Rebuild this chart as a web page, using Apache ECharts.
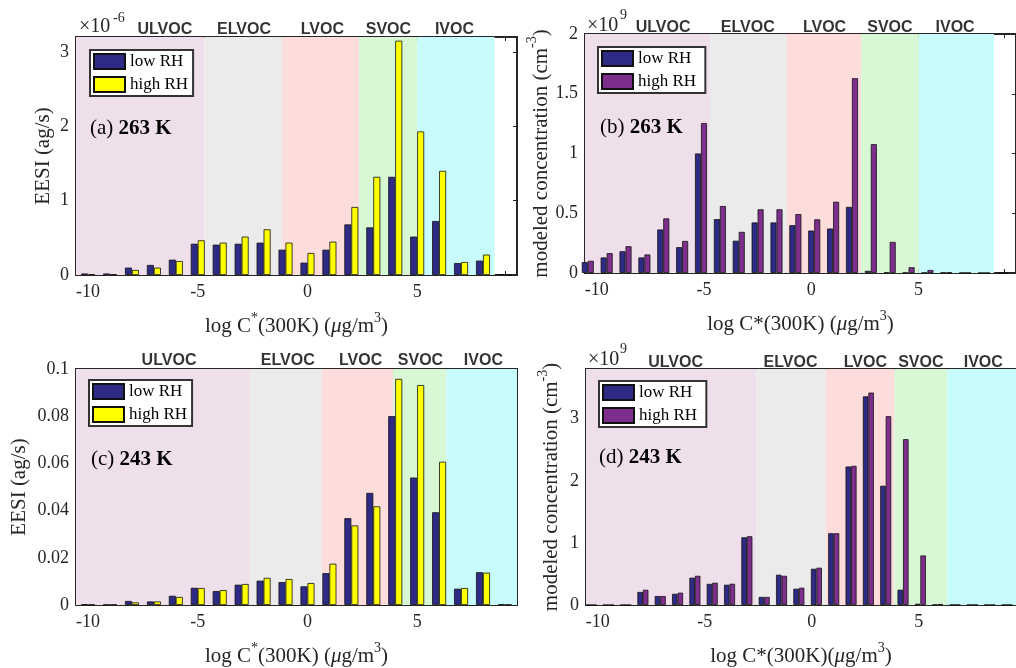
<!DOCTYPE html>
<html><head><meta charset="utf-8">
<script src="https://cdn.jsdelivr.net/npm/echarts@6/dist/echarts.min.js"></script>
<style>html,body{margin:0;padding:0;background:#fff}#c{width:1016px;height:668px}</style>
</head><body><div id="c"></div><script>
// ---------- data ----------
const binsAC = [-10,-9,-8,-7,-6,-5,-4,-3,-2,-1,0,1,2,3,4,5,6,7,8,9];
const binsB = [-10.42,-9.54,-8.66,-7.78,-6.90,-6.02,-5.14,-4.26,-3.38,-2.50,-1.62,-0.74,0.14,1.02,1.90,2.78,3.66,4.54,5.42,6.30,7.18,8.06,8.94];
const binsD = [-10.31,-9.50,-8.69,-7.89,-7.08,-6.27,-5.46,-4.65,-3.84,-3.03,-2.22,-1.41,-0.60,0.22,1.03,1.84,2.65,3.46,4.27,5.08,5.89,6.70,7.51,8.32,9.13];

const aLow  = [0.02,0.02,0.099,0.135,0.206,0.42,0.408,0.42,0.435,0.34,0.166,0.34,0.68,0.64,1.32,0.516,0.726,0.161,0.193,0.01];
const aHigh = [0.01,0.01,0.067,0.099,0.188,0.466,0.435,0.516,0.614,0.435,0.296,0.448,0.915,1.32,3.15,1.93,1.40,0.175,0.274,0.005];
const bLow  = [0.091,0.13,0.182,0.13,0.364,0.216,1.0,0.451,0.27,0.423,0.423,0.4,0.355,0.372,0.553,0.018,0.005,0.003,0.003,0.004,0.002,0.001,0.001];
const bHigh = [0.102,0.166,0.224,0.155,0.457,0.268,1.255,0.56,0.344,0.533,0.533,0.493,0.449,0.596,1.63,1.078,0.26,0.048,0.025,0.005,0.002,0.001,0.001];
const cLow  = [0.0003,0.0002,0.0017,0.0015,0.0039,0.0073,0.0059,0.0086,0.0103,0.0097,0.0079,0.0135,0.0368,0.0475,0.080,0.054,0.0393,0.0069,0.0139,0.0003];
const cHigh = [0.0002,0.0002,0.0011,0.0015,0.0034,0.0072,0.0063,0.0089,0.0115,0.011,0.0093,0.0175,0.0337,0.0418,0.0958,0.0932,0.0607,0.0072,0.0137,0.0002];
const dLow  = [0,0,0,0.21,0.144,0.18,0.44,0.34,0.326,1.09,0.13,0.487,0.262,0.583,1.155,2.23,3.36,1.92,0.246,0.02,0.005,0.003,0.003,0.002,0.002];
const dHigh = [0,0,0,0.245,0.144,0.198,0.47,0.358,0.342,1.107,0.13,0.47,0.278,0.6,1.155,2.24,3.42,3.04,2.67,0.797,0.015,0.004,0.003,0.002,0.002];

const xTickLabels = [-10,-5,0,5];
const xTickMarks = [-10,-9,-8,-7,-6,-5,-4,-3,-2,-1,0,1,2,3,4,5,6,7,8,9];
const yTicksA = [0,1,2,3];
const yTicksB = [0,0.5,1,1.5,2];
const yTicksC = [0,0.02,0.04,0.06,0.08,0.1];
const yTicksD = [0,1,2,3];

const vocNames = ['ULVOC','ELVOC','LVOC','SVOC','IVOC'];
const edgesA = [-10.55,-4.70,-1.15,2.35,5.00,8.53];
const edgesB = [-10.55,-4.72,-1.14,2.33,5.02,8.52];
const edgesC = [-10.55,-2.62,0.66,3.90,6.33,9.55];
const edgesD = [-10.55,-2.59,0.65,3.87,6.34,9.55];
const vocA = [-6.5,-2.89,0.68,3.69,6.7];
const vocB = [-6.91,-2.96,0.62,3.67,6.71];
const vocC = [-6.31,-0.9,2.42,5.15,8.02];
const vocD = [-6.36,-0.99,2.51,5.1,8.02];

// ---------- style ----------
const SERIF = 'Liberation Serif', SANS = 'Liberation Sans';
const AX = '#262626';
const NAVY = '#2e2b87', YEL = '#ffff00', PUR = '#7e2f8e';
const REG = ['#efdfeb','#ebebeb','#fddcdc','#d7f7d5','#c8fcfc'];
const XMIN = -10.55, XMAX = 9.55;

const rich = {
  n:{fontFamily:SERIF,fontSize:21,color:AX,lineHeight:26,verticalAlign:'bottom'},
  i:{fontFamily:SERIF,fontSize:21,fontStyle:'italic',color:AX,lineHeight:26,verticalAlign:'bottom'},
  s:{fontFamily:SERIF,fontSize:14,color:AX,lineHeight:14,verticalAlign:'top'}
};

const P = [
 {grid:{left:76,top:37,width:441,height:238}, x:binsAC, low:aLow, high:aHigh, ymax:3.2, yt:yTicksA, hc:YEL, ln:'low RH', hn:'high RH', edges:edgesA, voc:vocA, bw:7, vd:-1,
  xname:'{n|log C}{s|*}{n|(300K) (}{i|μ}{n|g/m}{s|3}{n|)}', yname:'{n|EESI (ag/s)}', ygap:22, leg:{left:90,top:50}},
 {grid:{left:585,top:34,width:441,height:239}, x:binsB, low:bLow, high:bHigh, ymax:2, yt:yTicksB, hc:PUR, ln:'low RH ', hn:'high RH ', edges:edgesB, voc:vocB, bw:6, vd:-2,
  xname:'{n|log C*(300K) (}{i|μ}{n|g/m}{s|3}{n|)}', yname:'{n|modeled concentration (cm}{s|-3}{n|)}', ygap:32, leg:{left:598,top:47}},
 {grid:{left:76,top:369,width:441,height:237}, x:binsAC, low:cLow, high:cHigh, ymax:0.1, yt:yTicksC, hc:YEL, ln:'low RH', hn:'high RH', edges:edgesC, voc:vocC, bw:7, vd:0,
  xname:'{n|log C}{s|*}{n|(300K) (}{i|μ}{n|g/m}{s|3}{n|)}', yname:'{n|EESI (ag/s)}', ygap:46, leg:{left:89,top:380}},
 {grid:{left:586,top:369,width:441,height:238}, x:binsD, low:dLow, high:dHigh, ymax:3.8, yt:yTicksD, hc:PUR, ln:'low RH ', hn:'high RH ', edges:edgesD, voc:vocD, bw:5.5, vd:-2,
  xname:'{n|log C*(300K)(}{i|μ}{n|g/m}{s|3}{n|)}', yname:'{n|modeled concentration (cm}{s|-3}{n|)}', ygap:24, leg:{left:599,top:381}}
];

const lineS = {color:AX,width:2};
const grids=[], xAxes=[], yAxes=[], series=[], legends=[];
P.forEach((p,i)=>{
  grids.push(Object.assign({containLabel:false}, p.grid));
  xAxes.push({gridIndex:i,type:'value',min:XMIN,max:XMAX,position:'bottom',
    axisLine:{show:true,onZero:false,lineStyle:lineS},
    axisTick:{show:true,inside:true,length:4,customValues:xTickMarks,lineStyle:{color:AX}},
    axisLabel:{customValues:xTickLabels,fontFamily:SERIF,fontSize:18,color:AX,margin:8},
    splitLine:{show:false},
    name:p.xname,nameLocation:'middle',nameGap:36,nameTextStyle:{rich:rich}});
  yAxes.push({gridIndex:i,type:'value',min:0,max:p.ymax,position:'left',
    axisLine:{show:true,onZero:false,lineStyle:lineS},
    axisTick:{show:true,inside:true,length:4,customValues:p.yt,lineStyle:{color:AX}},
    axisLabel:{customValues:p.yt,fontFamily:SERIF,fontSize:18,color:AX,margin:7},
    splitLine:{show:false},
    name:p.yname,nameLocation:'middle',nameRotate:90,nameGap:p.ygap,nameTextStyle:{rich:rich}});
});
P.forEach((p,i)=>{
  xAxes.push({gridIndex:i,type:'value',min:XMIN,max:XMAX,position:'top',
    axisLine:{show:true,onZero:false,lineStyle:lineS},
    axisTick:{show:true,inside:true,length:4,customValues:xTickMarks,lineStyle:{color:AX}},
    axisLabel:{show:false},splitLine:{show:false}});
  yAxes.push({gridIndex:i,type:'value',min:0,max:p.ymax,position:'right',
    axisLine:{show:true,onZero:false,lineStyle:lineS},
    axisTick:{show:true,inside:true,length:4,customValues:p.yt,lineStyle:{color:AX}},
    axisLabel:{show:false},splitLine:{show:false}});
});
const pair = (xs,vs)=>xs.map((x,k)=>[x,vs[k]]);
P.forEach((p,i)=>{
  const areas=[];
  for(let k=0;k<5;k++) areas.push([{xAxis:p.edges[k],itemStyle:{color:REG[k],opacity:1}},{xAxis:p.edges[k+1]}]);
  series.push({type:'line',xAxisIndex:i,yAxisIndex:i,data:[],z:0,silent:true,
    markArea:{silent:true,label:{show:false},data:areas}});
  series.push({type:'bar',name:p.ln,xAxisIndex:i,yAxisIndex:i,data:pair(p.x,p.low),barWidth:p.bw,barGap:'0%',z:3,
    itemStyle:{color:NAVY,borderColor:'#111',borderWidth:0.8}});
  series.push({type:'bar',name:p.hn,xAxisIndex:i,yAxisIndex:i,data:pair(p.x,p.high),barWidth:p.bw,barGap:'0%',z:3,
    itemStyle:{color:p.hc,borderColor:'#111',borderWidth:0.8}});
  series.push({type:'scatter',xAxisIndex:i,yAxisIndex:i,symbolSize:1,clip:false,silent:true,z:4,
    itemStyle:{color:'rgba(0,0,0,0)'},
    data:p.voc.map((v,k)=>({value:[v,p.ymax],name:vocNames[k]})),
    label:{show:true,position:'top',distance:p.vd,formatter:'{b}',fontFamily:SANS,fontWeight:'bold',fontSize:16,color:'#000'}});
  legends.push({data:[p.ln,p.hn],left:p.leg.left,top:p.leg.top,orient:'vertical',icon:'rect',
    itemWidth:31,itemHeight:15,itemGap:6,padding:[3,5,3,3],backgroundColor:'#fff',borderColor:'#333',borderWidth:2,
    selectedMode:false,textStyle:{fontFamily:SERIF,fontSize:17,color:'#000'}});
});

const panelLabels = [['(a) ','263 K',90,118],['(b) ','263 K',600,117],['(c) ','243 K',91,449],['(d) ','243 K',599,447]];
const graphics = panelLabels.map(l=>({type:'text',left:l[2],top:l[3],z:10,
  style:{text:'{a|'+l[0]+'}{b|'+l[1]+'}',rich:{a:{fontFamily:SERIF,fontSize:21,fill:'#000'},b:{fontFamily:SERIF,fontSize:21,fontWeight:'bold',fill:'#000'}}}}));
const mult = [['×10','-6',79,17,113,11],['×10','9',587,16,620,8],['×10','9',588,350,620,342]];
mult.forEach(m=>{
  graphics.push({type:'text',left:m[2],top:m[3],z:10,style:{text:m[0],fontFamily:SERIF,fontSize:20,fill:AX}});
  graphics.push({type:'text',left:m[4],top:m[5],z:10,style:{text:m[1],fontFamily:SERIF,fontSize:14,fill:AX}});
});

const chart = echarts.init(document.getElementById('c'));
chart.setOption({
  animation:false,
  backgroundColor:'#fff',
  grid:grids, xAxis:xAxes, yAxis:yAxes, series:series, legend:legends, graphic:graphics
});
</script></body></html>
